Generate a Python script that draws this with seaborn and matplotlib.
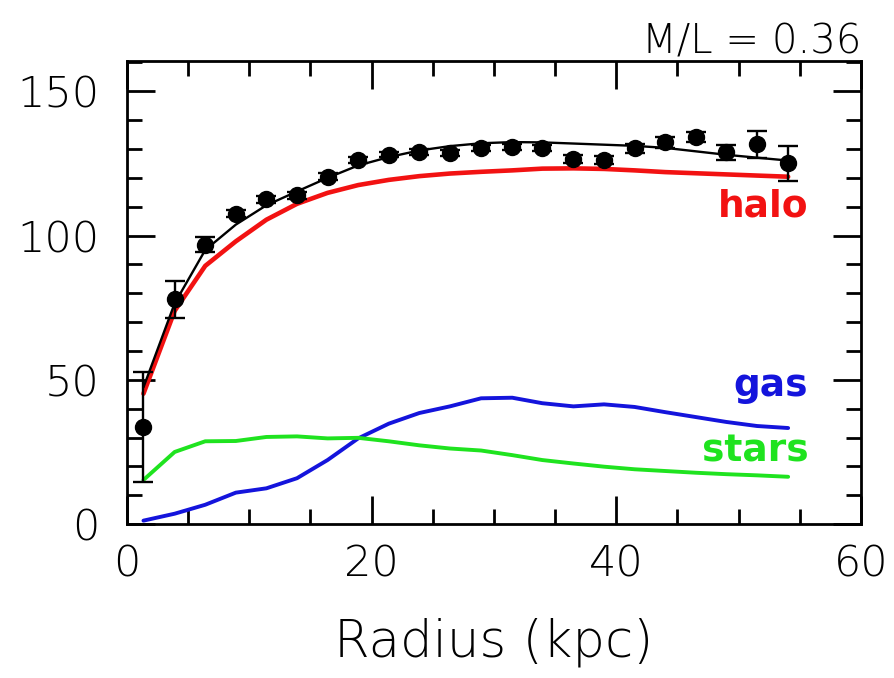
# Rotation curve: observed velocities with halo / gas / stars model components

import matplotlib
matplotlib.use("Agg")
import matplotlib.pyplot as plt
import seaborn as sns
import pandas as pd
from matplotlib.ticker import MultipleLocator

# radii (kpc) of the measurements and model samples
radius = [1.35, 3.9, 6.4, 8.9, 11.4, 13.9, 16.4, 18.9, 21.4, 23.9, 26.4,
          28.95, 31.5, 33.95, 36.5, 39.0, 41.5, 44.0, 46.5, 49.0, 51.5, 54.05]

# observed rotation velocity and errors
v_obs = [33.7, 77.9, 96.9, 107.6, 112.6, 113.9, 120.4, 126.2, 128.1, 129.1, 128.5,
         130.4, 130.8, 130.4, 126.6, 126.2, 130.2, 132.3, 134.2, 128.8, 131.6, 125.0]
v_err = [19.0, 6.3, 2.5, 1.2, 1.2, 1.2, 1.2, 1.2, 1.0, 1.0, 1.0,
         1.0, 1.0, 1.0, 1.5, 1.5, 1.5, 1.8, 1.8, 2.7, 4.6, 6.0]

# model components
v_total = [47.4, 76.5, 95.0, 103.8, 110.5, 115.3, 120.0, 124.3, 127.2, 129.5, 131.0,
           132.0, 132.4, 132.3, 131.9, 131.5, 131.1, 130.4, 129.2, 128.0, 127.0, 126.0]
v_halo = [45.2, 73.9, 89.5, 98.0, 105.5, 111.0, 114.8, 117.5, 119.3, 120.6, 121.5,
          122.1, 122.6, 123.2, 123.3, 123.1, 122.6, 122.0, 121.6, 121.2, 120.8, 120.4]
v_gas = [1.2, 3.6, 6.7, 10.9, 12.4, 15.9, 22.2, 29.7, 34.8, 38.5, 40.8,
         43.6, 43.8, 41.9, 40.8, 41.5, 40.6, 38.8, 37.1, 35.4, 34.0, 33.3]
v_stars = [15.3, 25.0, 28.7, 28.8, 30.2, 30.4, 29.7, 29.9, 28.7, 27.3, 26.2,
           25.5, 23.9, 22.2, 21.0, 19.9, 19.0, 18.4, 17.8, 17.3, 16.9, 16.4]

ml_label = "M/L = 0.36"

RED = "#f21212"
BLUE = "#1414dc"
GREEN = "#1fe31f"

sns.set_theme(style="ticks", rc={"text.color": "black", "axes.labelcolor": "black",
                                 "xtick.color": "black", "ytick.color": "black",
                                 "axes.edgecolor": "black"})
plt.rcParams["font.family"] = ["DejaVu Sans"]

df = pd.DataFrame({"radius": radius, "total": v_total, "halo": v_halo,
                   "gas": v_gas, "stars": v_stars})

fig = plt.figure(figsize=(8.94, 6.78), dpi=100)
ax = fig.add_axes([0.142, 0.227, 0.821, 0.683])

sns.lineplot(data=df, x="radius", y="halo", color=RED, lw=3.3, ax=ax,
             estimator=None, sort=False)
sns.lineplot(data=df, x="radius", y="gas", color=BLUE, lw=2.8, ax=ax,
             estimator=None, sort=False)
sns.lineplot(data=df, x="radius", y="stars", color=GREEN, lw=2.8, ax=ax,
             estimator=None, sort=False)
sns.lineplot(data=df, x="radius", y="total", color="black", lw=1.7, ax=ax,
             estimator=None, sort=False)

ax.errorbar(radius, v_obs, yerr=v_err, fmt="o", color="black", ms=11.5,
            elinewidth=1.7, capsize=7, capthick=1.7, zorder=5)

# component labels
lab_kw = dict(ha="right", va="center", fontsize=27, fontweight="bold")
ax.text(55.7, 110, "halo", color=RED, **lab_kw)
ax.text(55.7, 48, "gas", color=BLUE, **lab_kw)
ax.text(55.7, 25, "stars", color=GREEN, **lab_kw)

ax.set_xlim(0, 60)
ax.set_ylim(0, 160.5)
ax.xaxis.set_major_locator(MultipleLocator(20))
ax.xaxis.set_minor_locator(MultipleLocator(5))
ax.yaxis.set_major_locator(MultipleLocator(50))
ax.yaxis.set_minor_locator(MultipleLocator(10))

ax.tick_params(which="both", direction="in", top=True, right=True,
               width=2, color="black")
ax.tick_params(which="major", length=20, labelsize=31)
ax.tick_params(axis="x", which="major", pad=14)
ax.tick_params(axis="y", which="major", pad=20)
ax.tick_params(which="minor", length=11)
for lbl in ax.get_xticklabels() + ax.get_yticklabels():
    lbl.set_fontweight("light")
for sp in ax.spines.values():
    sp.set_linewidth(2)

ax.set_xlabel("Radius (kpc)", fontsize=37, fontweight="light", labelpad=24)
ax.set_ylabel("")
ax.set_title(ml_label, loc="right", fontsize=29, fontweight="light", pad=3)

fig.savefig("out.png", dpi=100)
